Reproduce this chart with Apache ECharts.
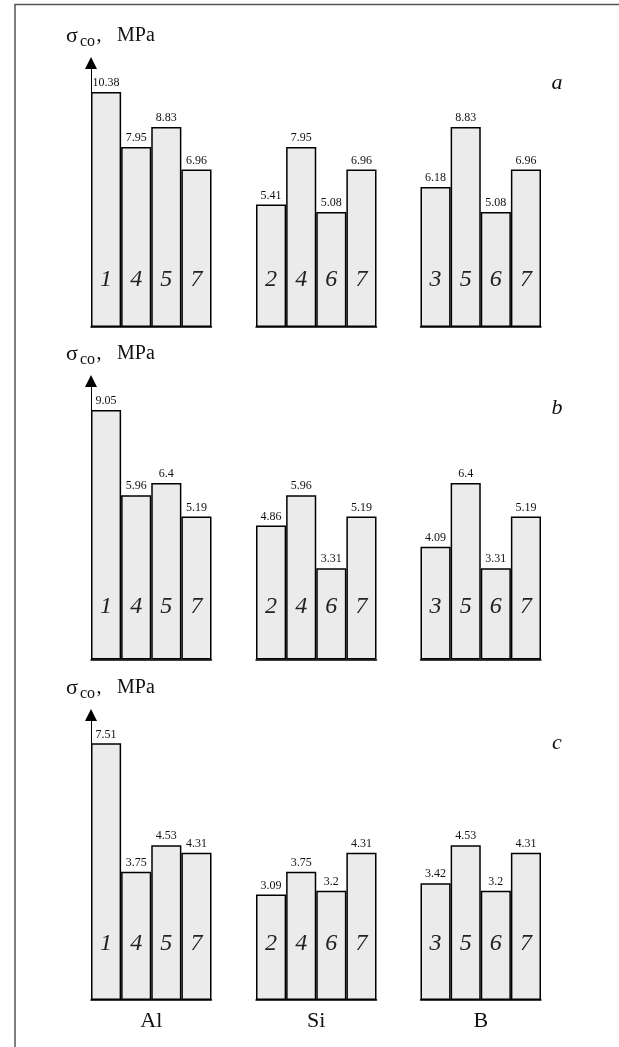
<!DOCTYPE html>
<html>
<head>
<meta charset="utf-8">
<title>σco, MPa</title>
<script src="https://cdn.jsdelivr.net/npm/echarts@6/dist/echarts.min.js"></script>
<style>
  html, body { margin: 0; padding: 0; background: #ffffff; }
  #chart { width: 619px; height: 1047px; }
</style>
</head>
<body>
<div id="chart"></div>
<script>
// Alloying element groups and the sample numbers shown inside each bar
const elements = ['Al', 'Si', 'B'];
const samplesAl = ['1', '4', '5', '7'];
const samplesSi = ['2', '4', '6', '7'];
const samplesB = ['3', '5', '6', '7'];

// σco, MPa — panel a
const sigmaA_Al = [10.38, 7.95, 8.83, 6.96];
const sigmaA_Si = [5.41, 7.95, 5.08, 6.96];
const sigmaA_B = [6.18, 8.83, 5.08, 6.96];
// panel b
const sigmaB_Al = [9.05, 5.96, 6.4, 5.19];
const sigmaB_Si = [4.86, 5.96, 3.31, 5.19];
const sigmaB_B = [4.09, 6.4, 3.31, 5.19];
// panel c
const sigmaC_Al = [7.51, 3.75, 4.53, 4.31];
const sigmaC_Si = [3.09, 3.75, 3.2, 4.31];
const sigmaC_B = [3.42, 4.53, 3.2, 4.31];

const panelLetters = ['a', 'b', 'c'];
const axisMax = [11.66, 10.1, 8.34];

// ---- layout ----
const samples = [samplesAl, samplesSi, samplesB];
const panels = [
  [sigmaA_Al, sigmaA_Si, sigmaA_B],
  [sigmaB_Al, sigmaB_Si, sigmaB_B],
  [sigmaC_Al, sigmaC_Si, sigmaC_B]
];
const panelTop = [63, 381, 715];
const panelBottom = [327, 659.5, 1000];
const numeralMargin = [47, 52.5, 56];
const letterY = [83, 408, 743];
const groupLeft = [91, 256, 420.5];
const groupWidth = 120.5;

const SERIF = '"Liberation Serif", "Times New Roman", serif';
const INK = '#111111';

const grid = [], xAxis = [], yAxis = [], series = [], graphic = [];

// axis title: σ with subscript "co", then ", MPa"
function axisTitle(top) {
  const mid = top - 27; // vertical middle of the main-size glyphs
  const base = { fontFamily: SERIF, fill: INK, align: 'left', verticalAlign: 'middle' };
  return {
    type: 'group',
    silent: true,
    children: [
      { type: 'text', x: 66, y: mid, style: Object.assign({ text: 'σ', fontSize: 22 }, base) },
      { type: 'text', x: 80, y: mid + 5.5, style: Object.assign({ text: 'co', fontSize: 16 }, base) },
      { type: 'text', x: 96.5, y: mid, style: Object.assign({ text: ',', fontSize: 20 }, base) },
      { type: 'text', x: 117, y: mid, style: Object.assign({ text: 'MPa', fontSize: 20 }, base) }
    ]
  };
}

panels.forEach(function (groups, p) {
  groups.forEach(function (values, g) {
    const idx = grid.length;
    grid.push({
      left: groupLeft[g],
      width: groupWidth,
      top: panelTop[p],
      height: panelBottom[p] - panelTop[p],
      containLabel: false
    });
    xAxis.push({
      type: 'category',
      gridIndex: idx,
      data: samples[g],
      z: 3,
      axisLine: { show: true, lineStyle: { color: '#000', width: 1.5 } },
      axisTick: { show: false },
      axisLabel: {
        inside: true,
        margin: numeralMargin[p],
        verticalAlign: 'middle',
        fontFamily: SERIF,
        fontStyle: 'italic',
        fontSize: 24,
        color: '#222'
      },
      splitLine: { show: false },
      name: p === panels.length - 1 ? elements[g] : '',
      nameLocation: 'middle',
      nameGap: 10,
      nameTextStyle: { fontFamily: SERIF, fontSize: 22, color: INK, verticalAlign: 'top' }
    });
    yAxis.push({
      type: 'value',
      gridIndex: idx,
      min: 0,
      max: axisMax[p],
      show: g === 0,
      axisLine: {
        show: true,
        symbol: ['none', 'triangle'],
        symbolSize: [12, 12],
        lineStyle: { color: '#000', width: 1 }
      },
      axisTick: { show: false },
      axisLabel: { show: false },
      splitLine: { show: false }
    });
    series.push({
      type: 'bar',
      xAxisIndex: idx,
      yAxisIndex: idx,
      data: values,
      barCategoryGap: '0%',
      itemStyle: { color: '#ebebeb', borderColor: '#000', borderWidth: 1.5 },
      label: {
        show: true,
        position: 'top',
        distance: 3,
        fontFamily: SERIF,
        fontSize: 12,
        color: INK
      },
      silent: true,
      animation: false
    });
  });

  graphic.push(axisTitle(panelTop[p]));
  // panel letter
  graphic.push({
    type: 'text',
    x: 557,
    y: letterY[p],
    style: {
      text: panelLetters[p],
      fontFamily: SERIF,
      fontStyle: 'italic',
      fontSize: 22,
      fill: INK,
      align: 'center',
      verticalAlign: 'middle'
    }
  });
});

// frame lines along the top and left edges
graphic.push({
  type: 'polyline',
  shape: { points: [[15, 1047], [15, 4.5], [619, 4.5]] },
  style: { stroke: '#555', lineWidth: 1.5, fill: null }
});

const chart = echarts.init(document.getElementById('chart'), null, { renderer: 'canvas' });
chart.setOption({
  backgroundColor: '#ffffff',
  animation: false,
  grid: grid,
  xAxis: xAxis,
  yAxis: yAxis,
  series: series,
  graphic: graphic
});
</script>
</body>
</html>
